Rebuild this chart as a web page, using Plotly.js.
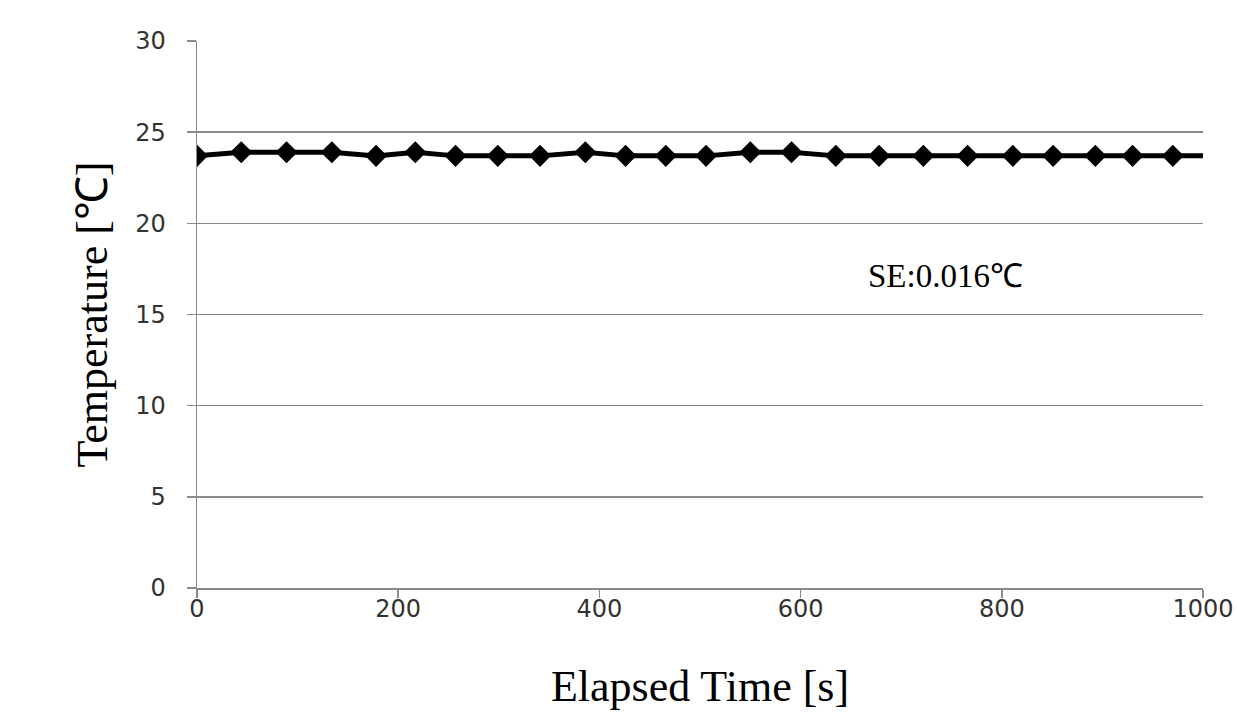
<!DOCTYPE html>
<html>
<head>
<meta charset="utf-8">
<script src="https://cdn.plot.ly/plotly-3.0.1.min.js"></script>
<style>html,body{margin:0;padding:0;background:#fff;}#chart{width:1237px;height:712px;}</style>
</head>
<body>
<div id="chart"></div>
<script>
// Elapsed time [s]
const elapsedTime = [0, 44, 89, 134, 178, 217, 257, 299, 341, 386, 426, 466, 506, 550, 591, 635, 678, 722, 766, 811, 851, 893, 930, 970, 1011];
// Temperature [°C]
const temperature = [23.7, 23.9, 23.9, 23.9, 23.7, 23.9, 23.7, 23.7, 23.7, 23.9, 23.7, 23.7, 23.7, 23.9, 23.9, 23.7, 23.7, 23.7, 23.7, 23.7, 23.7, 23.7, 23.7, 23.7, 23.7];
const xTicks = [0, 200, 400, 600, 800, 1000];
const yTicks = [0, 5, 10, 15, 20, 25, 30];
const seLabel = 'SE:0.016℃';

const trace = {
  x: elapsedTime,
  y: temperature,
  type: 'scatter',
  mode: 'lines+markers',
  line: {color: '#000', width: 5},
  marker: {symbol: 'diamond', size: 17, color: '#000'},
  cliponaxis: true,
  hoverinfo: 'skip'
};

const tickFont = {family: 'DejaVu Sans', size: 24, color: '#333'};
const layout = {
  width: 1237, height: 712,
  margin: {l: 197, r: 34, t: 41, b: 124},
  paper_bgcolor: '#fff', plot_bgcolor: '#fff',
  showlegend: false,
  xaxis: {
    range: [0, 1000],
    tickvals: xTicks, ticktext: xTicks.map(String),
    showgrid: false, zeroline: false,
    showline: true, linecolor: '#8a8a8a', linewidth: 1.5,
    ticks: 'outside', ticklen: 8, tickcolor: '#8a8a8a', tickwidth: 1.5,
    ticklabelstandoff: -9,
    tickfont: tickFont,
    title: {text: 'Elapsed Time [s]', font: {family: 'Liberation Serif', size: 44, color: '#000'}, standoff: 48}
  },
  yaxis: {
    range: [0, 30],
    tickvals: yTicks, ticktext: yTicks.map(String),
    showgrid: true, gridcolor: '#8a8a8a', gridwidth: 1.5,
    zeroline: false,
    showline: true, linecolor: '#8a8a8a', linewidth: 1.5,
    ticks: 'outside', ticklen: 9, tickcolor: '#8a8a8a', tickwidth: 1.5,
    ticklabelstandoff: 16,
    tickfont: tickFont,
    title: {text: 'Temperature [℃]', font: {family: 'Liberation Serif', size: 44, color: '#000'}, standoff: 14}
  },
  annotations: [{
    x: 744, y: 17.1, xref: 'x', yref: 'y',
    text: seLabel, showarrow: false,
    font: {family: 'Liberation Serif', size: 33, color: '#000'}
  }]
};

Plotly.newPlot('chart', [trace], layout, {displayModeBar: false, staticPlot: true});
</script>
</body>
</html>
